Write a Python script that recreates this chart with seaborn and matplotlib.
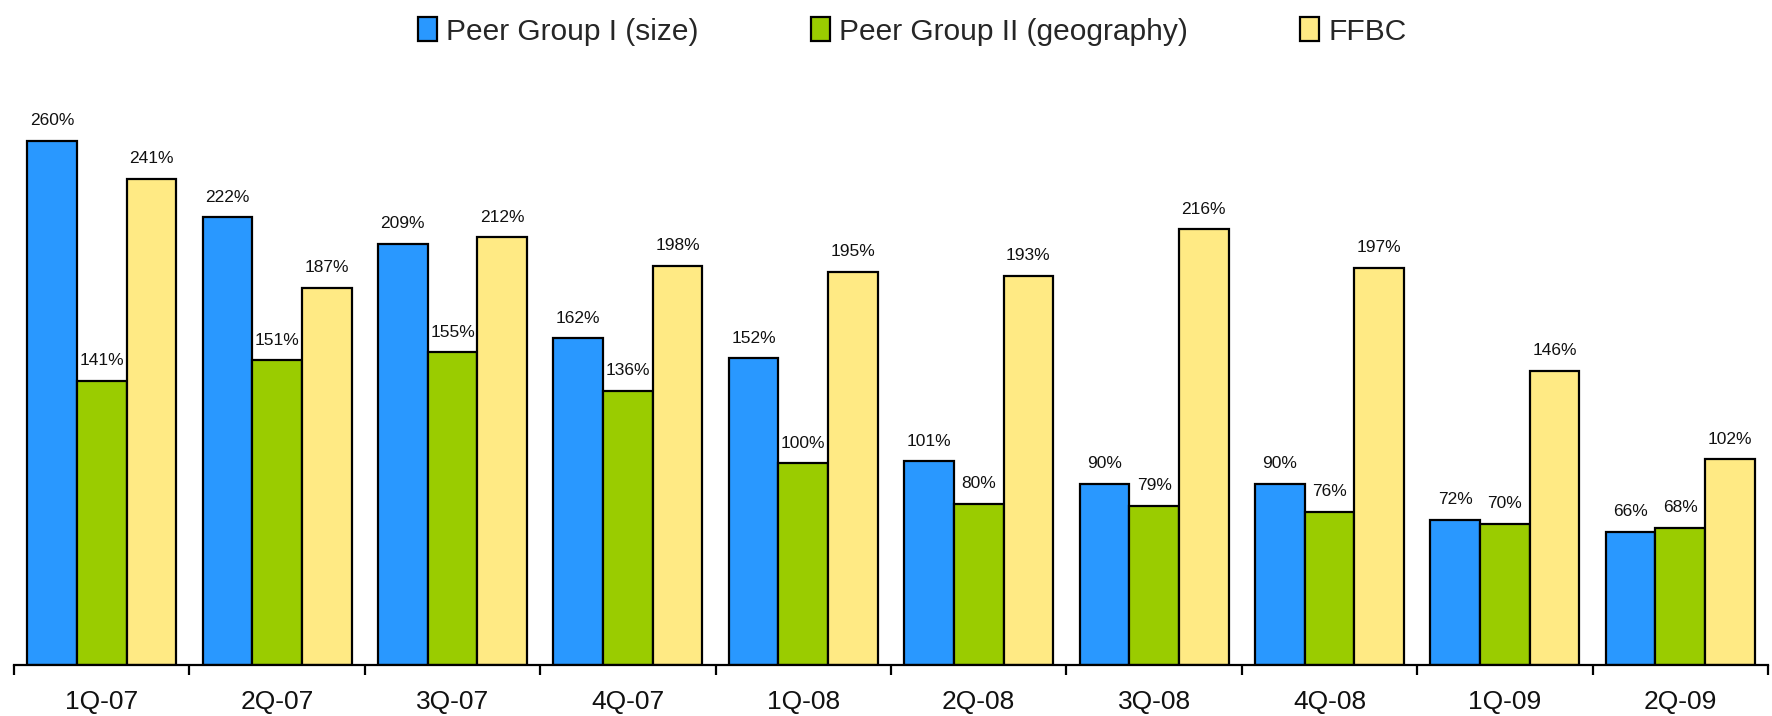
import pandas as pd
import matplotlib
matplotlib.use("Agg")
import matplotlib.pyplot as plt
import seaborn as sns
from matplotlib.ticker import FixedLocator

# quarters on the x axis
quarters = ["1Q-07", "2Q-07", "3Q-07", "4Q-07", "1Q-08",
            "2Q-08", "3Q-08", "4Q-08", "1Q-09", "2Q-09"]

# values (percent)
peer_size = [260, 222, 209, 162, 152, 101, 90, 90, 72, 66]
peer_geo = [141, 151, 155, 136, 100, 80, 79, 76, 70, 68]
ffbc = [241, 187, 212, 198, 195, 193, 216, 197, 146, 102]

series_names = ["Peer Group I (size)", "Peer Group II (geography)", "FFBC"]
series_colors = ["#2998FF", "#9ACC00", "#FFEA84"]

# long format for seaborn
df = pd.DataFrame({
    "Quarter": quarters * 3,
    "Group": [series_names[0]] * 10 + [series_names[1]] * 10 + [series_names[2]] * 10,
    "Value": peer_size + peer_geo + ffbc,
})

sns.set_style("white")
plt.rcParams["font.family"] = ["Liberation Sans", "DejaVu Sans"]

fig = plt.figure(figsize=(17.72, 7.16), dpi=100)
ax = fig.add_axes([14 / 1772, 51 / 716, 1754 / 1772, 605 / 716])

sns.barplot(data=df, x="Quarter", y="Value", hue="Group",
            palette=series_colors, width=0.85, gap=0,
            edgecolor="black", linewidth=1.6, saturation=1,
            legend=True, ax=ax)

# percent labels above each bar
for cont in ax.containers:
    ax.bar_label(cont, fmt="%d%%", padding=9, fontsize=12.5, color="#111111")

ax.set_xlim(-0.5, len(quarters) - 0.5)
ax.set_ylim(0, 300)
ax.set_xlabel("")
ax.set_ylabel("")
ax.set_yticks([])

for side in ["left", "right", "top"]:
    ax.spines[side].set_visible(False)
ax.spines["bottom"].set_linewidth(1.6)
ax.spines["bottom"].set_color("black")

# labels at the centre, tick marks between categories
ax.tick_params(axis="x", which="major", bottom=True, length=0, pad=18,
               labelsize=19, labelcolor="#111111")
ax.xaxis.set_minor_locator(FixedLocator([i - 0.5 for i in range(len(quarters) + 1)]))
ax.tick_params(axis="x", which="minor", bottom=True, length=7, width=1.6,
               color="black", direction="out")

handles, labels = ax.get_legend_handles_labels()
ax.legend(handles, labels, loc="upper center", bbox_to_anchor=(0.512, 1.115),
          ncol=3, frameon=False, fontsize=21.5, handlelength=0.65, handleheight=0.85,
          handletextpad=0.3, columnspacing=3.75)

fig.savefig("out.png", dpi=100)
